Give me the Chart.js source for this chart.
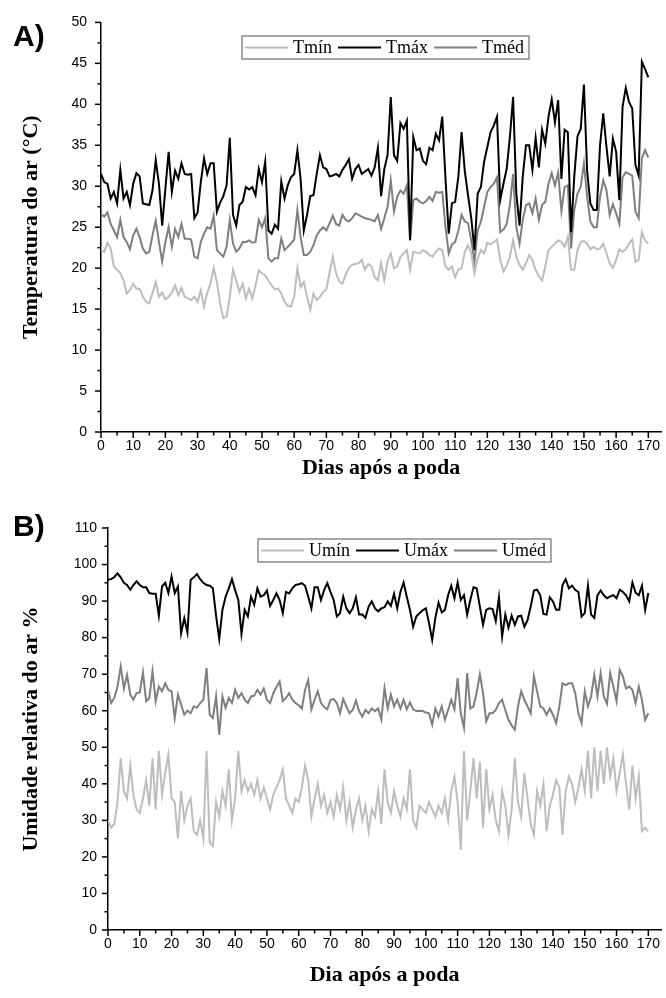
<!DOCTYPE html>
<html><head><meta charset="utf-8">
<script src="https://cdn.jsdelivr.net/npm/chart.js@4.4.0/dist/chart.umd.min.js"></script>
<style>
html,body{margin:0;padding:0;background:#fff;}
body{width:666px;height:998px;position:relative;overflow:hidden;}
.wrap{position:absolute;left:0;width:666px;}
#wa{top:0;height:490px;}
#wb{top:490px;height:508px;}
.lbl{position:absolute;font:bold 30px "Liberation Sans",Arial,sans-serif;line-height:30px;color:#000;}
</style></head><body>
<div class="wrap" id="wa"><canvas id="ca" width="666" height="490"></canvas></div>
<div class="wrap" id="wb"><canvas id="cb" width="666" height="508"></canvas></div>
<div class="lbl" style="left:13px;top:21px">A)</div>
<div class="lbl" style="left:13px;top:511px">B)</div>
<script>
// ---- categories: days after pruning ----
const days = [0,1,2,3,4,5,6,7,8,9,10,11,12,13,14,15,16,17,18,19,20,21,22,23,24,25,26,27,28,29,30,31,32,33,34,35,36,37,38,39,40,41,42,43,44,45,46,47,48,49,50,51,52,53,54,55,56,57,58,59,60,61,62,63,64,65,66,67,68,69,70,71,72,73,74,75,76,77,78,79,80,81,82,83,84,85,86,87,88,89,90,91,92,93,94,95,96,97,98,99,100,101,102,103,104,105,106,107,108,109,110,111,112,113,114,115,116,117,118,119,120,121,122,123,124,125,126,127,128,129,130,131,132,133,134,135,136,137,138,139,140,141,142,143,144,145,146,147,148,149,150,151,152,153,154,155,156,157,158,159,160,161,162,163,164,165,166,167,168,169,170];
const xTickValues = [0,10,20,30,40,50,60,70,80,90,100,110,120,130,140,150,160,170];

// ---- A) air temperature (°C) ----
const tMin = [22.2,22.0,23.1,22.4,20.2,19.8,19.4,18.5,16.9,17.3,
18.1,17.5,17.5,16.5,15.9,15.7,17.0,18.3,16.5,17.0,
16.2,16.5,17.0,17.9,16.7,17.6,16.5,16.3,16.1,16.5,
15.9,17.3,15.3,17.0,18.1,20.0,18.3,15.7,13.9,14.1,
16.5,19.8,18.5,17.1,18.1,16.3,17.5,16.3,17.9,19.7,
19.4,19.1,18.5,17.9,17.4,17.5,16.9,15.9,15.4,15.3,
16.5,20.0,17.7,18.3,16.5,14.9,16.9,16.1,16.5,17.1,
17.4,19.5,21.4,19.4,18.4,18.1,19.2,20.0,20.4,20.5,
20.6,21.0,19.8,20.5,20.2,18.9,18.5,20.6,18.5,20.8,
21.8,20.0,20.2,21.4,21.8,22.2,19.8,22.0,21.9,21.8,
22.2,22.0,21.6,21.4,22.0,22.4,22.2,20.2,19.8,20.2,
18.9,19.8,20.0,22.0,22.8,21.8,19.4,21.2,22.2,21.8,
23.1,22.9,23.2,23.5,21.0,19.6,20.3,21.4,23.4,21.4,
20.4,19.8,20.6,21.6,21.0,19.8,19.0,18.5,20.2,22.2,
22.6,23.0,23.4,23.2,22.6,23.8,19.8,19.8,22.2,23.2,
23.3,23.0,22.3,22.6,22.3,22.4,23.0,21.8,20.6,20.0,
21.0,22.3,22.0,22.3,23.0,23.5,20.8,21.0,24.4,23.4,
23.0];
const tMax = [31.5,30.5,30.3,28.5,29.3,27.9,32.0,28.5,29.3,27.7,
30.3,31.6,31.2,27.9,27.8,27.7,29.5,33.2,30.3,25.2,
29.7,34.2,29.3,31.9,30.9,32.8,31.5,31.4,31.5,26.1,
26.8,30.5,33.4,31.5,32.8,32.8,26.9,28.0,28.8,30.1,
35.9,26.5,25.2,27.7,28.1,29.9,29.6,29.9,28.9,32.1,
30.5,33.0,24.6,24.2,25.3,24.8,30.6,28.5,30.1,31.1,
31.5,34.4,30.9,24.6,26.5,28.8,28.9,31.5,33.8,32.3,
32.1,31.2,31.3,31.5,31.2,32.0,32.6,33.3,30.9,32.1,
32.6,31.5,31.8,32.1,31.3,32.3,34.7,28.8,32.1,33.8,
40.9,33.8,33.1,37.7,37.0,38.0,23.4,36.0,34.4,34.6,
33.1,32.7,34.7,34.4,36.4,35.6,38.5,30.9,24.2,27.9,
28.1,31.2,36.6,31.8,28.9,26.1,22.2,29.1,29.9,33.0,
34.8,36.6,37.4,38.5,28.3,30.3,32.1,36.0,40.9,29.1,
25.2,31.2,35.0,35.0,32.0,35.9,32.3,36.9,35.2,38.5,
40.6,37.8,40.5,30.9,36.9,36.6,24.4,31.2,36.1,37.0,
42.4,31.8,27.9,27.1,27.1,35.0,38.9,34.8,31.2,35.8,
34.2,28.3,39.7,42.0,40.3,39.5,32.6,31.3,45.2,44.3,
43.3];
const tMed = [26.6,26.3,26.8,25.4,24.6,23.8,25.9,23.8,23.2,22.3,
24.0,24.8,23.8,22.4,21.8,22.0,24.0,25.8,23.2,20.8,
23.2,25.0,22.6,24.8,23.8,25.4,23.6,23.6,23.5,21.4,
21.2,23.2,24.2,25.0,24.8,26.4,22.2,21.8,21.4,22.6,
25.9,23.0,22.0,22.4,23.2,23.2,23.4,23.1,23.2,25.9,
25.0,26.1,21.2,20.8,21.2,21.2,23.6,22.2,22.6,23.0,
23.5,27.1,23.8,21.6,21.6,22.0,22.8,24.0,24.6,25.0,
24.6,25.5,26.4,25.4,25.2,26.5,25.9,25.7,26.1,26.7,
26.5,26.3,26.1,26.0,25.9,25.7,26.5,24.8,26.1,27.5,
30.7,26.9,28.7,29.5,29.1,30.1,23.4,28.3,28.5,28.1,
27.9,28.2,28.7,28.2,29.3,29.2,29.3,25.0,21.8,22.9,
23.2,24.6,26.5,25.7,25.5,23.4,20.8,24.6,25.7,27.5,
29.3,29.9,30.3,31.1,24.4,24.7,25.4,27.7,31.5,25.0,
23.0,25.9,27.7,27.9,26.7,28.5,25.9,27.7,28.1,30.3,
31.6,30.1,31.7,27.0,29.9,30.1,22.4,27.1,29.1,29.9,
32.8,28.7,25.7,25.0,25.0,28.7,30.7,29.5,26.5,27.8,
26.7,25.4,31.1,31.7,31.5,31.3,26.9,26.1,33.4,34.4,
33.5];

// ---- B) relative humidity (%) ----
const uMin = [30,28,29,35,47,38,36,45,37,33,
32,36,41,34,47,33,49,37,43,48,
36,35,25,38,30,34,36,27,26,30,
25,49,24,23,35,31,38,34,44,30,
36,49,38,41,38,40,37,41,36,39,
36,33,37,39,41,44,36,34,32,36,
35,39,45,41,31,36,40,34,37,32,
35,31,37,33,39,30,35,28,33,36,
30,34,27,33,31,38,29,44,35,32,
38,34,31,36,33,44,30,28,34,33,
32,35,33,31,34,32,36,30,38,42,
35,22,49,30,38,47,36,46,28,44,
33,37,30,27,38,34,26,33,47,35,
31,43,36,29,26,38,34,40,27,34,
37,41,39,26,38,42,40,35,39,44,
38,49,36,50,38,49,40,50,42,47,
38,43,48,40,33,45,36,42,27,28,
27];
const uMax = [95.8,96.0,96.6,97.6,96.5,95.0,94.4,93.1,94.4,95.4,
94.4,93.8,93.8,92.2,92.0,92.0,86.0,94.0,95.0,92.2,
96.7,92.2,94.0,81.2,85.3,81.4,95.8,96.5,97.4,96.0,
95.0,94.4,94.2,93.5,86.0,79.6,87.6,91.2,93.5,96.0,
93.0,90.3,81.0,87.6,85.8,91.2,89.0,93.5,91.2,91.6,
92.9,88.7,90.3,92.1,90.3,86.7,92.5,92.1,93.5,94.4,
94.6,94.9,94.2,91.2,88.0,93.8,93.8,90.3,93.0,94.9,
92.5,90.3,85.8,86.7,91.2,88.0,86.7,88.0,91.0,86.3,
86.3,85.4,88.5,89.9,88.0,87.2,88.0,88.3,89.9,88.7,
92.0,88.0,92.5,95.1,91.2,87.6,83.0,85.8,86.7,87.5,
88.0,84.0,79.4,85.4,89.6,86.9,87.6,91.6,94.2,90.8,
95.1,90.3,91.6,86.3,90.3,93.8,93.5,88.5,83.5,87.6,
88.0,87.8,84.5,91.0,80.3,86.3,82.7,86.0,83.5,85.8,
86.0,83.0,84.8,88.5,92.9,93.1,91.6,86.5,86.3,91.0,
89.9,87.6,87.6,94.4,96.0,93.5,94.2,93.1,92.5,85.8,
86.7,94.2,86.3,85.4,91.6,92.9,91.6,90.8,91.3,91.6,
90.8,93.1,92.5,91.6,89.9,95.1,92.3,91.6,94.2,87.6,
92.2];
const uMed = [65.7,62.1,63.5,66.6,72.1,66.1,69.8,64.4,63.0,64.8,
65.0,70.5,62.6,63.5,70.8,62.6,66.6,65.3,67.5,65.7,
65.3,58.0,64.4,61.7,58.9,60.0,59.3,61.2,60.8,62.1,
63.0,71.7,58.9,58.0,64.0,53.4,63.9,60.8,63.5,62.1,
65.7,63.5,64.8,63.0,62.1,63.9,64.1,65.7,64.4,66.1,
63.0,62.1,64.8,66.5,68.0,62.6,63.5,64.8,63.0,62.1,
61.5,60.6,65.7,68.4,60.4,63.0,65.3,62.1,61.0,60.4,
63.0,63.2,62.1,59.3,63.2,61.2,59.3,60.2,62.8,59.9,
58.4,60.2,59.3,60.6,59.9,60.6,57.6,66.2,60.6,64.4,
61.2,63.0,60.6,63.0,60.4,62.3,60.4,59.9,60.0,59.9,
59.5,59.3,56.2,60.6,58.4,61.2,57.5,60.2,63.0,60.4,
68.9,59.3,55.3,70.3,60.6,61.2,65.0,70.0,64.8,57.1,
59.3,59.3,60.2,62.1,63.0,60.2,57.5,56.0,54.8,61.2,
65.3,63.0,61.2,59.3,69.4,65.3,61.2,60.6,58.9,60.6,
58.9,56.6,61.2,67.5,67.0,67.5,67.5,64.8,59.3,56.6,
65.3,61.2,63.9,69.8,63.9,70.3,63.9,61.9,70.3,66.6,
62.6,71.2,69.4,66.1,66.6,65.7,62.1,66.6,63.0,57.5,
59.3];

const labelsA = ['Tmín','Tmáx','Tméd'];
const labelsB = ['Umín','Umáx','Uméd'];
const colors = ['#bdbdbd','#000000','#7f7f7f'];

const SANS = '"Liberation Sans", Arial, sans-serif';
const SERIF = '"Liberation Serif", "Times New Roman", serif';

const originTicks = {
  id: 'originTicks',
  afterDraw(chart, args, o) {
    const {ctx} = chart; const x = chart.scales.x, y = chart.scales.y;
    ctx.save(); ctx.strokeStyle = '#000'; ctx.lineWidth = 1.5;
    for (let v = 0; v <= o.xEnd; v += o.xMinor) {
      const p = x.getPixelForValue(v);
      const len = (v % o.xMajor === 0) ? 6 : 3.5;
      ctx.beginPath(); ctx.moveTo(p, x.top); ctx.lineTo(p, x.top + len); ctx.stroke();
    }
    for (let v = y.min; v <= y.max + 1e-9; v += o.yMinor) {
      const p = y.getPixelForValue(v);
      const len = (Math.abs(v / o.yMajor - Math.round(v / o.yMajor)) < 1e-6) ? 6 : 3.5;
      ctx.beginPath(); ctx.moveTo(y.right, p); ctx.lineTo(y.right - len, p); ctx.stroke();
    }
    ctx.restore();
  }
};

const boxLegend = {
  id: 'boxLegend',
  afterDraw(chart, args, o) {
    const ctx = chart.ctx; ctx.save();
    ctx.font = '18px ' + SERIF;
    ctx.textBaseline = 'middle'; ctx.textAlign = 'left';
    let cx = o.left + 3; const cy = o.top + o.height / 2;
    chart.data.datasets.forEach(ds => {
      ctx.strokeStyle = ds.borderColor; ctx.lineWidth = 2;
      ctx.beginPath(); ctx.moveTo(cx, cy); ctx.lineTo(cx + 43, cy); ctx.stroke();
      cx += 48;
      ctx.fillStyle = '#000'; ctx.fillText(ds.label, cx, cy + 1);
      cx += ctx.measureText(ds.label).width + 6;
    });
    const right = cx - 6 + 5;
    ctx.strokeStyle = '#8a8a8a'; ctx.lineWidth = 1.5;
    ctx.strokeRect(o.left, o.top, right - o.left, o.height);
    ctx.restore();
  }
};

function build(canvasId, series, names, cfg) {
  const datasets = series.map((s, k) => ({
    label: names[k],
    data: days.map((d, i) => ({x: d, y: s[i]})),
    borderColor: colors[k], backgroundColor: colors[k],
    borderWidth: 2, pointRadius: 0, tension: 0, fill: false
  }));
  return new Chart(document.getElementById(canvasId), {
    type: 'line',
    data: {datasets},
    options: {
      responsive: false, animation: false, devicePixelRatio: 1,
      layout: {padding: {top: cfg.top, right: 0, bottom: 0, left: 0}},
      plugins: {
        legend: {display: false}, tooltip: {enabled: false},
        originTicks: {xEnd: 170, xMajor: 10, xMinor: 5, yMajor: cfg.yStep, yMinor: cfg.yStep / 2},
        boxLegend: cfg.legend
      },
      scales: {
        x: {
          type: 'linear', min: 0, max: 174,
          afterFit(s) { s.height = cfg.xH; },
          afterBuildTicks(s) { s.ticks = xTickValues.map(v => ({value: v})); },
          ticks: {stepSize: 10, includeBounds: false, padding: 6, maxRotation: 0, autoSkip: false, color: '#000', font: {family: SANS, size: 14}},
          grid: {display: false, drawTicks: false},
          border: {display: true, color: '#000', width: 1.5},
          title: {display: true, text: cfg.xTitle, color: '#000', font: {family: SERIF, size: 22, weight: 'bold'}, padding: {top: 0, bottom: cfg.xTitlePad}}
        },
        y: {
          min: 0, max: cfg.yMax,
          afterFit(s) { s.width = cfg.yW; },
          ticks: {stepSize: cfg.yStep, padding: cfg.yPad, color: '#000', font: {family: SANS, size: 14}},
          grid: {display: false, drawTicks: false},
          border: {display: true, color: '#000', width: 1.5},
          title: {display: true, text: cfg.yTitle, color: '#000', font: {family: SERIF, size: 22, weight: 'bold'}, padding: {top: 17.8, bottom: 0}}
        }
      }
    },
    plugins: [originTicks, boxLegend]
  });
}

build('ca', [tMin, tMax, tMed], labelsA, {
  top: 22, xH: 58, yW: 101, yMax: 50, yStep: 5, yPad: 14,
  xTitle: 'Dias após a poda', yTitle: 'Temperatura do ar (°C)', xTitlePad: 8.8,
  legend: {left: 242, top: 36, height: 23}
});
build('cb', [uMin, uMax, uMed], labelsB, {
  top: 38, xH: 68, yW: 108, yMax: 110, yStep: 10, yPad: 11,
  xTitle: 'Dia após a poda', yTitle: 'Umidade relativa do ar %', xTitlePad: 9.8,
  legend: {left: 258, top: 49, height: 23}
});
</script>
</body></html>
